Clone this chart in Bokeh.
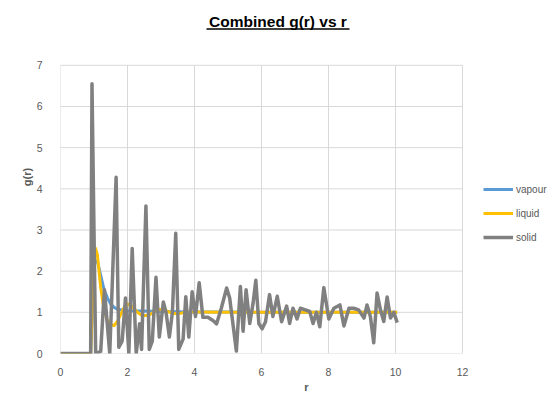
from bokeh.plotting import figure
from bokeh.models import Range1d, FixedTicker, Legend, LegendItem, BoxAnnotation, Label
from bokeh.embed import file_html
from bokeh.resources import INLINE

# ---- data ----
r_vapour = [0, 0.9, 1.0, 1.1, 1.2, 1.3, 1.4, 1.5, 1.6, 1.7, 1.8, 2.0, 2.5, 3.0,
            4.0, 5.0, 6.0, 7.0, 8.0, 9.0, 10.05]
g_vapour = [0, 0, 2.2, 2.25, 1.9, 1.55, 1.35, 1.2, 1.12, 1.08, 1.06, 1.04, 1.03, 1.02,
            1.01, 1.01, 1.0, 1.0, 1.0, 1.0, 1.0]

r_liquid = [0, 0.9, 1.0, 1.05, 1.1, 1.2, 1.3, 1.4, 1.5, 1.6, 1.7, 1.8, 1.9, 2.0, 2.1,
            2.2, 2.3, 2.4, 2.5, 2.6, 2.7, 2.8, 2.9, 3.0, 3.1, 3.2, 3.3, 3.4, 3.5, 3.6,
            3.7, 3.8, 4.0, 5.0, 6.0, 7.0, 8.0, 9.0, 10.05]
g_liquid = [0, 0, 2.3, 2.55, 2.4, 1.6, 1.05, 0.8, 0.7, 0.68, 0.78, 0.95, 1.12, 1.2, 1.17,
            1.08, 1.0, 0.94, 0.92, 0.92, 0.96, 1.02, 1.06, 1.07, 1.05, 1.02, 0.99, 0.97, 0.97, 0.98,
            1.0, 1.01, 1.01, 1.0, 1.0, 1.0, 1.0, 1.0, 1.0]

r_solid = [0, 0.9, 0.94, 1.05, 1.2, 1.31, 1.47, 1.66, 1.74, 1.84, 1.94, 2.04, 2.14, 2.26,
           2.36, 2.42, 2.55, 2.65, 2.74, 2.85, 2.95, 3.07, 3.15, 3.25, 3.34, 3.44, 3.53,
           3.66, 3.74, 3.83, 3.93, 4.03, 4.14, 4.25, 4.4, 4.55, 4.66, 4.8, 4.96, 5.05,
           5.25, 5.37, 5.45, 5.54, 5.65, 5.75, 5.83, 5.92, 6.02, 6.12, 6.24, 6.34, 6.47,
           6.6, 6.75, 6.84, 6.94, 7.06, 7.16, 7.31, 7.44, 7.54, 7.64, 7.74, 7.86, 8.01,
           8.16, 8.34, 8.46, 8.61, 8.75, 8.9, 9.06, 9.15, 9.25, 9.35, 9.45, 9.55, 9.65,
           9.75, 9.85, 9.95, 10.05]
g_solid = [0, 0, 6.55, 0.0, 0.05, 1.55, 0.0, 4.28, 0.15, 0.3, 1.35, 0.0, 2.55, 0.0,
           0.72, 0.1, 3.58, 0.1, 0.3, 1.85, 0.4, 1.25, 1.0, 0.4, 1.0, 2.92, 0.1,
           0.35, 1.38, 0.4, 1.5, 0.9, 1.72, 0.88, 0.88, 0.8, 0.72, 1.1, 1.59, 1.35,
           0.06, 1.63, 0.54, 1.55, 0.73, 1.23, 1.78, 0.73, 0.6, 0.77, 1.43, 0.9, 1.39,
           0.77, 1.15, 0.73, 1.1, 0.84, 1.1, 1.06, 1.02, 0.73, 1.0, 0.65, 1.6, 0.84,
           1.1, 1.18, 0.67, 1.1, 1.1, 1.06, 0.86, 1.18, 0.9, 0.26, 1.47, 1.06, 0.78,
           1.37, 0.86, 1.0, 0.75]

x_ticks = [0, 2, 4, 6, 8, 10, 12]
y_ticks = [0, 1, 2, 3, 4, 5, 6, 7]
series_names = ["vapour", "liquid", "solid"]
title_text = "Combined g(r) vs r"
x_title = "r"
y_title = "g(r)"

TXT = "#595959"
GRID = "#D9D9D9"
FONT = "Liberation Sans"

# Layout: the plotting frame spans from the y axis to the right edge and up to the
# top so that the title and the legend can live inside it; the axis area (0..12, 0..7)
# occupies the left/bottom 402 x 289 px of it.
W, H = 552, 395
LEFT, BOTTOM = 60, 41
AX_W, AX_H = 402, 289
FW, FH = W - LEFT, H - BOTTOM
x_max, y_max = x_ticks[-1], y_ticks[-1]

p = figure(width=W, height=H,
           x_range=Range1d(0, x_max * FW / AX_W), y_range=Range1d(0, y_max * FH / AX_H),
           output_backend="svg", toolbar_location=None,
           min_border_left=LEFT, min_border_bottom=BOTTOM,
           min_border_top=0, min_border_right=0,
           background_fill_color="white", border_fill_color="white")
p.outline_line_color = None
p.xgrid.visible = False
p.ygrid.visible = False

for ax in (p.xaxis[0], p.yaxis[0]):
    ax.major_tick_line_color = None
    ax.minor_tick_line_color = None
    ax.axis_line_color = None
    ax.major_label_text_font = FONT
    ax.major_label_text_font_size = "10.5px"
    ax.major_label_text_color = TXT
    ax.axis_label_text_font = FONT
    ax.axis_label_text_font_size = "11px"
    ax.axis_label_text_font_style = "bold"
    ax.axis_label_text_color = TXT
p.xaxis.ticker = FixedTicker(ticks=x_ticks)
p.yaxis.ticker = FixedTicker(ticks=y_ticks)
p.xaxis.axis_label = x_title
p.yaxis.axis_label = y_title
p.xaxis.major_label_standoff = 8
p.xaxis.axis_label_standoff = 2
p.yaxis.major_label_standoff = 12
p.yaxis.axis_label_standoff = 1

# gridlines limited to the axis area
p.segment(x0=x_ticks, y0=[0] * len(x_ticks), x1=x_ticks, y1=[y_max] * len(x_ticks),
          line_color=GRID, line_width=1)
p.segment(x0=[0] * len(y_ticks), y0=y_ticks, x1=[x_max] * len(y_ticks), y1=y_ticks,
          line_color=GRID, line_width=1)

rv = p.line(r_vapour, g_vapour, line_color="#5B9BD5", line_width=3, line_join="round")
rl = p.line(r_liquid, g_liquid, line_color="#FFC000", line_width=3, line_join="round")
rs = p.line(r_solid, g_solid, line_color="#808080", line_width=3.5, line_join="round")

legend = Legend(items=[LegendItem(label=series_names[0], renderers=[rv]),
                       LegendItem(label=series_names[1], renderers=[rl]),
                       LegendItem(label=series_names[2], renderers=[rs])],
                location=(423, 106), border_line_color=None,
                background_fill_alpha=0, label_text_font=FONT,
                label_text_font_size="10px", label_text_color=TXT,
                glyph_width=30, glyph_height=20, label_height=20, label_standoff=3,
                spacing=4, padding=5, margin=0)
p.add_layout(legend)

# title (screen units measured from the frame's bottom-left corner)
p.add_layout(Label(x=217.5, y=FH - 21.5, x_units="screen", y_units="screen",
                   text=title_text, text_font=FONT, text_font_size="15.5px",
                   text_font_style="bold", text_color="#000000",
                   text_align="center", text_baseline="middle"))
p.add_layout(BoxAnnotation(left=146, right=289, top=FH - 28.8, bottom=FH - 30.3,
                           left_units="screen", right_units="screen",
                           top_units="screen", bottom_units="screen",
                           fill_color="#000000", fill_alpha=1, line_color=None))

open("out.html", "w").write(file_html(p, INLINE))
